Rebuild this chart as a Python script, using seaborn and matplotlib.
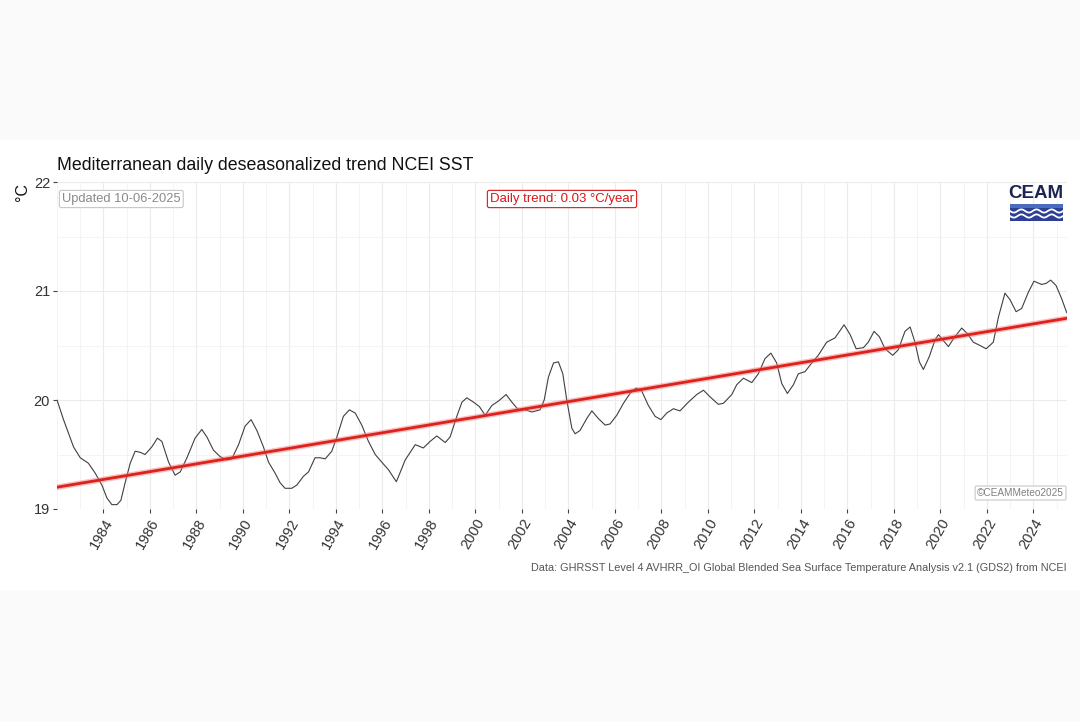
import numpy as np
import matplotlib
matplotlib.use('Agg')
import matplotlib.pyplot as plt
import matplotlib.ticker as ticker
import matplotlib.patches as mpatches
import seaborn as sns
import pandas as pd

# Serie diaria desestacionalizada
anos = [1982.00, 1982.28, 1982.71, 1983.00, 1983.35, 1983.64, 1983.93, 1984.15, 1984.36, 1984.58,
        1984.75, 1984.93, 1985.15, 1985.36, 1985.58, 1985.79, 1986.08, 1986.32, 1986.51, 1986.80,
        1987.08, 1987.30, 1987.59, 1987.94, 1988.23, 1988.45, 1988.73, 1989.02, 1989.31, 1989.52,
        1989.81, 1990.09, 1990.35, 1990.60, 1990.88, 1991.10, 1991.38, 1991.60, 1991.81, 1992.10,
        1992.32, 1992.60, 1992.82, 1993.10, 1993.32, 1993.54, 1993.82, 1994.04, 1994.32, 1994.58,
        1994.83, 1995.11, 1995.40, 1995.69, 1995.97, 1996.26, 1996.60, 1996.98, 1997.41, 1997.76,
        1998.05, 1998.34, 1998.70, 1998.91, 1999.20, 1999.42, 1999.63, 1999.92, 2000.17, 2000.42,
        2000.71, 2000.99, 2001.32, 2001.57, 2001.85, 2002.14, 2002.43, 2002.78, 2002.96, 2003.14,
        2003.36, 2003.57, 2003.76, 2003.93, 2004.15, 2004.29, 2004.50, 2004.79, 2005.01, 2005.29,
        2005.58, 2005.79, 2006.08, 2006.37, 2006.65, 2006.91, 2007.16, 2007.44, 2007.73, 2007.98,
        2008.23, 2008.52, 2008.80, 2009.16, 2009.52, 2009.81, 2010.09, 2010.45, 2010.67, 2011.03,
        2011.24, 2011.53, 2011.89, 2012.17, 2012.46, 2012.71, 2012.96, 2013.18, 2013.42, 2013.68,
        2013.89, 2014.18, 2014.47, 2014.75, 2015.11, 2015.47, 2015.86, 2016.12, 2016.38, 2016.69,
        2016.90, 2017.15, 2017.38, 2017.62, 2017.95, 2018.19, 2018.48, 2018.70, 2018.91, 2019.10,
        2019.27, 2019.53, 2019.77, 2019.92, 2020.11, 2020.35, 2020.59, 2020.92, 2021.16, 2021.42,
        2021.71, 2021.97, 2022.28, 2022.50, 2022.78, 2023.00, 2023.26, 2023.50, 2023.79, 2024.03,
        2024.36, 2024.55, 2024.75, 2024.98, 2025.22, 2025.44]
sst = [20.00, 19.82, 19.57, 19.47, 19.42, 19.33, 19.22, 19.10, 19.04, 19.04,
       19.08, 19.24, 19.42, 19.53, 19.52, 19.50, 19.57, 19.65, 19.62, 19.43,
       19.31, 19.34, 19.47, 19.65, 19.73, 19.66, 19.54, 19.48, 19.45, 19.46,
       19.59, 19.76, 19.82, 19.72, 19.57, 19.43, 19.33, 19.24, 19.19, 19.19,
       19.22, 19.30, 19.34, 19.47, 19.47, 19.46, 19.53, 19.66, 19.85, 19.91,
       19.88, 19.77, 19.62, 19.50, 19.43, 19.36, 19.25, 19.45, 19.59, 19.56,
       19.62, 19.67, 19.61, 19.66, 19.85, 19.98, 20.02, 19.98, 19.94, 19.86,
       19.95, 19.99, 20.05, 19.98, 19.91, 19.91, 19.89, 19.91, 20.00, 20.21,
       20.34, 20.35, 20.24, 20.00, 19.74, 19.69, 19.72, 19.83, 19.90, 19.83,
       19.77, 19.78, 19.86, 19.97, 20.06, 20.11, 20.08, 19.95, 19.85, 19.82,
       19.88, 19.92, 19.90, 19.98, 20.05, 20.09, 20.03, 19.96, 19.97, 20.05,
       20.14, 20.20, 20.16, 20.24, 20.38, 20.43, 20.34, 20.15, 20.06, 20.14,
       20.24, 20.26, 20.34, 20.41, 20.53, 20.57, 20.69, 20.60, 20.47, 20.48,
       20.53, 20.63, 20.58, 20.47, 20.41, 20.46, 20.63, 20.67, 20.53, 20.35,
       20.28, 20.40, 20.55, 20.60, 20.55, 20.49, 20.57, 20.66, 20.61, 20.53,
       20.50, 20.47, 20.53, 20.76, 20.98, 20.92, 20.81, 20.84, 20.99, 21.09,
       21.06, 21.07, 21.10, 21.05, 20.93, 20.80]

# Tendencia lineal (extremos)
tendencia_anos = [1982.00, 2025.45]
tendencia_sst = [19.20, 20.75]

ticks_anos = list(range(1984, 2025, 2))
ticks_sst = [19, 20, 21, 22]

df = pd.DataFrame({'ano': anos, 'sst': sst})
df_tend = pd.DataFrame({'ano': tendencia_anos, 'sst': tendencia_sst})

sns.set_theme(style='white')
plt.rcParams['font.family'] = ['Liberation Sans', 'DejaVu Sans']

W, H = 1080, 722
fig = plt.figure(figsize=(W / 100, H / 100), dpi=100, facecolor='#fafafa')
fig.add_artist(mpatches.Rectangle((0, 1 - 590 / H), 1, 450 / H, transform=fig.transFigure,
                                  facecolor='white', edgecolor='none', zorder=-5))

ax = fig.add_axes([57 / W, 1 - 509 / H, (1067 - 57) / W, (509 - 182) / H])
ax.set_facecolor('white')

sns.lineplot(data=df, x='ano', y='sst', ax=ax, color='#404040', linewidth=0.8, zorder=3)
sns.lineplot(data=df_tend, x='ano', y='sst', ax=ax, color='#f08080', linewidth=4.0, alpha=0.5, zorder=4)
sns.lineplot(data=df_tend, x='ano', y='sst', ax=ax, color='#e0201b', linewidth=2.0, zorder=5)

ax.set_xlim(1982.0, 2025.45)
ax.set_ylim(19, 22)
ax.set_xticks(ticks_anos)
ax.set_yticks(ticks_sst)
ax.xaxis.set_minor_locator(ticker.MultipleLocator(1))
ax.yaxis.set_minor_locator(ticker.MultipleLocator(0.5))
ax.grid(which='major', color='#ebebeb', linewidth=0.8)
ax.grid(which='minor', color='#f3f3f3', linewidth=0.6)
ax.set_axisbelow(True)
for s in ax.spines.values():
    s.set_visible(False)

ax.tick_params(which='major', bottom=True, left=True, length=3, width=0.8, color='#444444',
               labelsize=10.5, labelcolor='#333333', pad=2)
ax.tick_params(which='minor', length=0)
plt.setp(ax.get_xticklabels(), rotation=60, ha='right', va='top', rotation_mode='anchor')

ax.set_xlabel('')
ax.set_ylabel('')

# Textos
fig.text(57 / W, 1 - 165 / H, 'Mediterranean daily deseasonalized trend NCEI SST',
         fontsize=12.8, color='#111111', ha='left', va='center')
fig.text(22 / W, 1 - 192 / H, '°C', fontsize=11.5, rotation=90, ha='center', va='center', color='#111111')

caja_gris = dict(boxstyle='round,pad=0.2,rounding_size=0.15', facecolor='white', edgecolor='#c8c8c8', linewidth=0.8)
fig.text(62 / W, 1 - 199 / H, 'Updated 10-06-2025', fontsize=9.3, color='#8a8a8a',
         ha='left', va='center', bbox=caja_gris)
fig.text(562 / W, 1 - 199 / H, 'Daily trend: 0.03 °C/year', fontsize=9.5, color='#d7191c',
         ha='center', va='center',
         bbox=dict(boxstyle='round,pad=0.2,rounding_size=0.15', facecolor='white', edgecolor='#d7191c', linewidth=0.8))
fig.text(1064 / W, 1 - 493 / H, '©CEAMMeteo2025', fontsize=7.2, color='#808080',
         ha='right', va='center', bbox=caja_gris)
fig.text(1067 / W, 1 - 568 / H,
         'Data: GHRSST Level 4 AVHRR_OI Global Blended Sea Surface Temperature Analysis v2.1 (GDS2) from NCEI',
         fontsize=7.85, color='#555555', ha='right', va='center')

# Logo CEAM
fig.text(1036 / W, 1 - 194 / H, 'CEAM', fontsize=13.5, color='#1c2552', ha='center', va='center',
         fontweight='semibold')
fig.add_artist(mpatches.Rectangle((1010 / W, 1 - 221 / H), 53 / W, 17 / H, transform=fig.transFigure,
                                  facecolor='#2d3f94', edgecolor='none', zorder=6))
fig.add_artist(mpatches.Rectangle((1010 / W, 1 - 208 / H), 53 / W, 4 / H, transform=fig.transFigure,
                                  facecolor='#4a6cc0', edgecolor='none', zorder=6))
ola_x = np.linspace(1010, 1063, 60)
for base in (211, 216):
    ola_y = base + 1.6 * np.sin((ola_x - 1010) / 53 * 2 * np.pi * 3.5)
    fig.add_artist(matplotlib.lines.Line2D(ola_x / W, 1 - ola_y / H, transform=fig.transFigure,
                                           color='white', linewidth=1.3, zorder=7))

plt.savefig('out.png', dpi=100, facecolor=fig.get_facecolor())
plt.close()
